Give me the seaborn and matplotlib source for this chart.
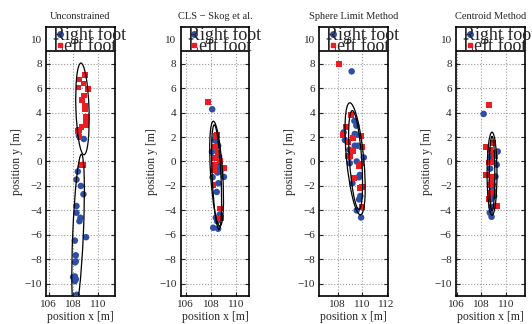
import numpy as np
import pandas as pd
import matplotlib
matplotlib.use("Agg")
import matplotlib.pyplot as plt
from matplotlib.patches import Ellipse, Rectangle
import seaborn as sns

sns.set_style("ticks")
plt.rcParams['font.family'] = ['Liberation Serif', 'DejaVu Serif']

titles = ['Unconstrained', 'CLS \u2212 Skog et al.', 'Sphere Limit Method', 'Centroid Method']

# right foot (blue) and left foot (red) positions per method
right_x = [
    [108.43, 108.83, 108.35, 108.24, 108.59, 108.8, 108.24, 108.24, 108.56, 108.48,
     109.01, 108.11, 108.19, 108.19, 108.13, 107.97, 108.11, 108.19, 108.11, 108.27],
    [108.1, 108.39, 108.57, 108.08, 108.65, 108.13, 108.65, 108.52, 108.49, 109.03,
     108.59, 108.46, 108.39, 108.49, 108.18, 108.57, 108.7, 108.28, 108.75],
    [109.15, 108.49, 108.6, 108.96, 108.99, 108.99, 109.4, 109.59, 109.37, 109.53,
     109.4, 109.64, 110.14, 109.56, 109.81, 109.75, 109.21, 109.86, 109.75, 109.56, 109.92],
    [108.19, 108.77, 108.75, 109.33, 109.25, 108.72, 109.15, 108.85, 108.93, 108.88,
     109.04, 108.77, 108.83, 108.69, 108.83],
]
right_y = [
    [2.11, 1.84, -0.82, -1.48, -2.0, -2.68, -3.64, -4.19, -4.6, -4.88,
     -6.19, -6.47, -7.67, -8.16, -8.25, -9.45, -9.4, -9.62, -9.78, -10.9],
    [4.27, 1.7, 1.29, 0.79, 0.41, -1.29, -0.36, -0.9, -0.77, -1.26,
     -1.78, -2.49, -4.6, -4.88, -5.42, -5.5, -4.33, 1.75, -0.82],
    [7.37, 2.38, 1.75, 0.96, 0.38, -0.14, 2.25, 2.19, 3.32, 2.93,
     1.29, 1.29, 0.33, 0.0, -1.1, -1.29, -1.78, -2.82, -3.1, -4.0, -4.58],
    [3.89, 0.47, 0.19, 0.82, -0.27, -0.58, -1.23, -1.59, -1.89, -2.14,
     -2.82, -3.1, -3.7, -4.19, -4.52],
]
left_x = [
    [108.43, 108.9, 108.4, 108.8, 109.17, 108.85, 108.69, 108.93, 108.9, 109.04,
     109.01, 108.99, 108.64, 108.43, 108.35, 108.48, 108.75, 108.61],
    [107.77, 108.36, 108.49, 108.34, 108.52, 108.7, 108.29, 108.34, 109.06, 108.26,
     108.2, 108.75, 108.83, 108.57],
    [108.11, 109.12, 108.66, 108.41, 108.85, 109.29, 109.95, 110.0, 108.82, 109.04,
     109.78, 109.89, 109.34, 109.86, 110.0, 110.0, 109.26],
    [108.61, 108.37, 108.72, 108.93, 109.15, 109.09, 108.61, 108.93, 108.4, 108.83,
     108.72, 108.8, 108.99, 108.61, 109.25, 108.93],
]
left_y = [
    [6.71, 7.04, 6.05, 6.38, 5.9, 5.4, 5.04, 4.58, 4.3, 3.62,
     3.34, 2.99, 2.79, 2.58, 2.52, 1.97, -0.25, -0.25],
    [4.84, 2.1, 2.2, 1.15, 0.74, 0.05, 0.25, -0.25, -0.55, -0.74,
     -1.95, -3.84, -4.6, -4.6],
    [7.95, 3.81, 2.82, 2.16, 1.56, 1.92, 2.11, 1.15, 0.47, 0.41,
     -0.36, -0.16, -1.37, -2.14, -2.08, -3.7, 0.85],
    [4.63, 1.15, 0.96, 1.51, 0.74, 0.41, -0.08, -0.08, -1.1, -1.53,
     -1.89, -2.55, -2.49, -3.04, -3.64, -1.23],
]

# error ellipses: (center x, center y, width, height, angle)
ellipses = [
    [(108.72, 4.3, 1.05, 7.5, 1.9), (108.37, -5.85, 0.85, 12.9, -2.4)],
    [(108.45, -1.0, 0.96, 8.6, 3.5), (108.45, -1.28, 0.7, 8.56, 2.5)],
    [(109.43, 0.22, 1.4, 9.2, 5.5), (109.47, 0.12, 1.0, 8.1, 3.9)],
    [(108.87, -1.0, 0.8, 6.8, 0.0), (108.87, -1.0, 0.45, 6.1, 0.0)],
]

xlims = [(105.8, 111.3), (105.6, 111.05), (106.5, 112.1), (105.95, 111.5)]
xticks = [[106, 108, 110], [106, 108, 110], [108, 110, 112], [106, 108, 110]]
lefts = [0.0865, 0.3397, 0.600, 0.857]

blue = '#2f4ea6'
red = '#ec1c24'

fig = plt.figure(figsize=(5.32, 3.24), dpi=100)

for i in range(4):
    ax = fig.add_axes([lefts[i], 0.0864, 0.129, 0.8303])
    df_r = pd.DataFrame({'x': right_x[i], 'y': right_y[i]})
    df_l = pd.DataFrame({'x': left_x[i], 'y': left_y[i]})
    sns.scatterplot(data=df_r, x='x', y='y', ax=ax, color=blue, marker='o',
                    s=22, edgecolor='none', zorder=3)
    sns.scatterplot(data=df_l, x='x', y='y', ax=ax, color=red, marker='s',
                    s=18, edgecolor='none', zorder=3)
    for cx, cy, w, h, a in ellipses[i]:
        ax.add_patch(Ellipse((cx, cy), w, h, angle=a, fill=False,
                             edgecolor='black', lw=0.9, zorder=4))
    ax.set_xlim(*xlims[i])
    ax.set_ylim(-11, 11)
    ax.set_xticks(xticks[i])
    ax.set_yticks(range(-10, 11, 2))
    ax.grid(True, linestyle=':', color='#999999', lw=0.8)
    ax.tick_params(direction='in', length=3, labelsize=8, top=True, right=True, pad=3)
    for sp in ax.spines.values():
        sp.set_linewidth(1.2)
        sp.set_color('black')
    ax.set_xlabel('position x [m]', fontsize=8.5, labelpad=1)
    ax.set_ylabel('position y [m]', fontsize=8.5, labelpad=1)
    ax.set_title(titles[i], fontsize=7.5, pad=6)

    # legend box drawn in MATLAB style, text overflowing the box
    ax.add_patch(Rectangle((0, 0.909), 1, 0.091, transform=ax.transAxes,
                           facecolor='white', edgecolor='black', lw=1.2, zorder=5))
    ax.plot([0.2], [0.973], 'o', color=blue, ms=4, transform=ax.transAxes,
            zorder=6, clip_on=False)
    ax.plot([0.2], [0.933], 's', color=red, ms=3.5, transform=ax.transAxes,
            zorder=6, clip_on=False)
    ax.text(0.1, 0.952, 'Right foot', transform=ax.transAxes, fontsize=13,
            va='baseline', zorder=7, clip_on=False)
    ax.text(0.1, 0.911, 'Left foot', transform=ax.transAxes, fontsize=13,
            va='baseline', zorder=7, clip_on=False)

fig.savefig('out.png', dpi=100)
